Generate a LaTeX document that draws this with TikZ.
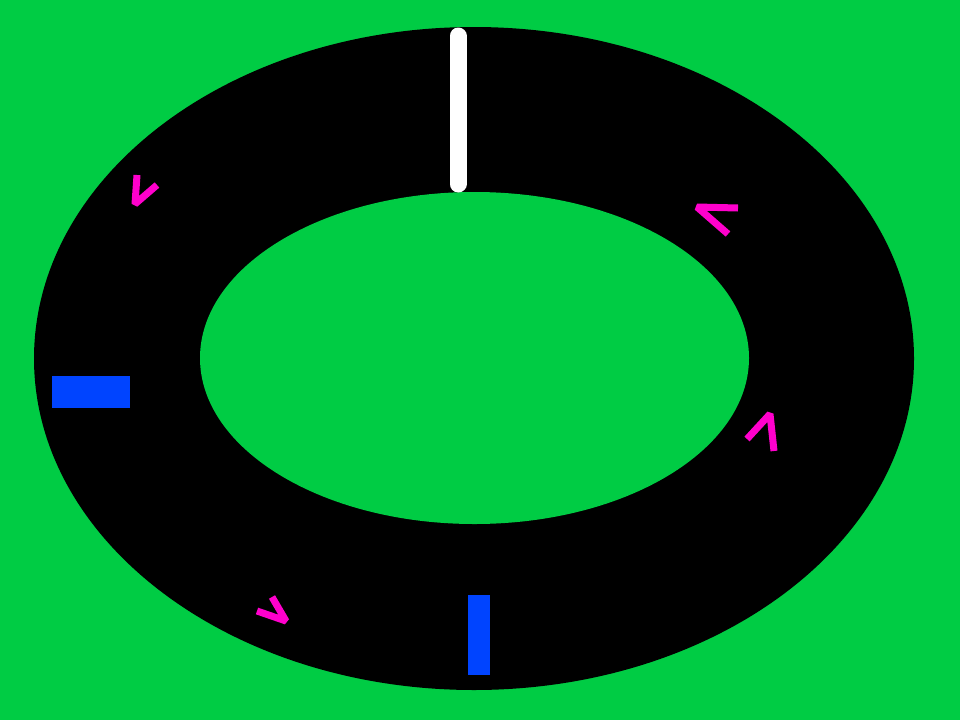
\documentclass[tikz,border=0pt]{standalone}
\definecolor{grass}{RGB}{0,204,68}
\definecolor{markblue}{RGB}{0,68,255}
\definecolor{chev}{RGB}{255,0,204}
\begin{document}
\begin{tikzpicture}[x=1pt,y=-1pt,
  chevron/.style={draw=chev,line width=7pt,line cap=butt,line join=bevel},
  marker/.style={fill=markblue}]
\useasboundingbox (0,0) rectangle (960,720);
\fill[grass] (0,0) rectangle (960,720);
% track
\fill[black] (474,358.5) ellipse [x radius=440,y radius=331.5];
\fill[grass] (474.5,358) ellipse [x radius=274.5,y radius=166];
% start/finish line
\draw[white,line width=17pt,line cap=round] (458,36) -- (458,184);
% markers
\fill[marker] (52,376) rectangle (130,408);
\fill[marker] (468,595) rectangle (490,675);
% chevrons
\draw[chevron] (137,175) -- (135,204) -- (157,185);
\draw[chevron] (738,208) -- (697,207) -- (728,234);
\draw[chevron] (747,439) -- (770,414) -- (774,451);
\draw[chevron] (272,597) -- (286,621) -- (257,611);
\end{tikzpicture}
\end{document}
